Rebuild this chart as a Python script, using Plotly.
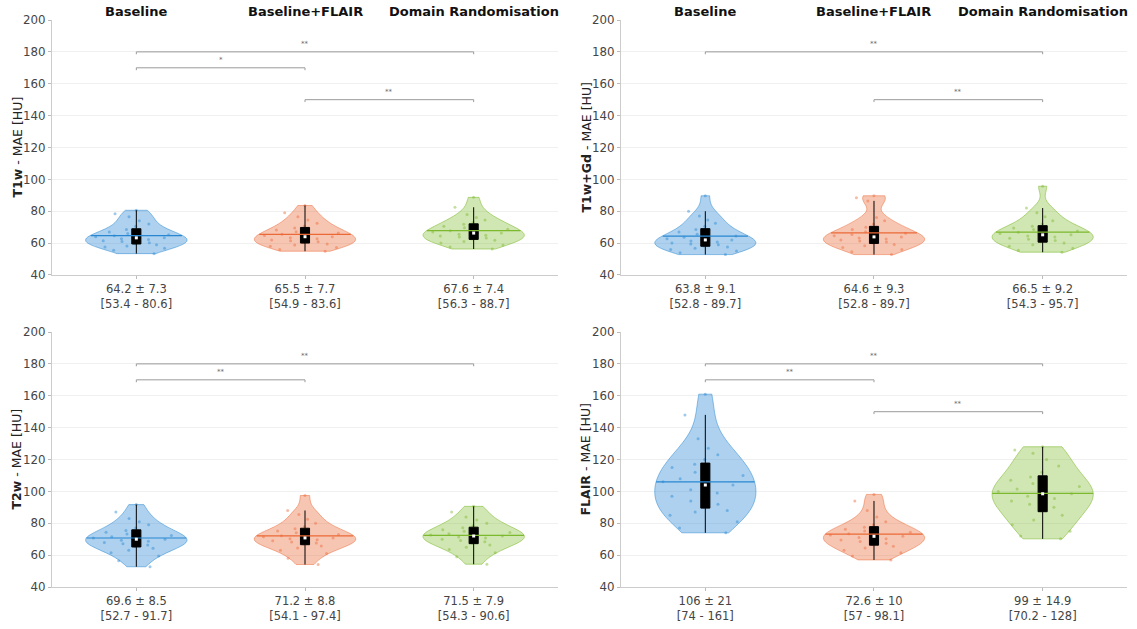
import numpy as np
import plotly.graph_objects as go

# ---------------- data ----------------
methods = ["Baseline", "Baseline+FLAIR", "Domain Randomisation"]
sequences = ["T1w", "T1w+Gd", "T2w", "FLAIR"]

t1w_baseline = [53.4, 55.5, 56.8, 57.5, 58.2, 59.0, 59.6, 60.3, 61.0, 61.5, 62.2, 62.8, 63.3,
                64.0, 64.6, 65.3, 66.0, 67.0, 68.5, 70.5, 72.0, 74.0, 76.5, 78.5, 80.6]
t1w_flair = [54.9, 56.0, 57.2, 58.0, 58.8, 59.5, 60.2, 60.8, 61.5, 62.0, 62.7, 63.4, 64.0,
             64.8, 65.5, 66.3, 67.2, 68.3, 69.5, 70.8, 72.5, 74.5, 76.5, 79.0, 83.6]
t1w_dr = [56.3, 57.5, 58.8, 60.0, 61.0, 61.8, 62.5, 63.2, 63.8, 64.4, 65.0, 65.6, 66.3,
          67.0, 67.8, 68.7, 69.6, 70.6, 71.8, 73.0, 74.5, 76.0, 78.0, 82.5, 88.7]

t1gd_baseline = [52.8, 54.0, 55.0, 56.0, 56.8, 57.5, 58.2, 58.9, 59.5, 60.1, 60.7, 61.3, 62.0,
                 62.8, 63.6, 64.5, 65.6, 67.0, 68.6, 70.5, 72.5, 74.5, 77.0, 80.0, 89.7]
t1gd_flair = [52.8, 54.5, 56.0, 57.3, 58.3, 59.2, 60.0, 60.7, 61.3, 62.0, 62.6, 63.2, 63.9,
              64.6, 65.4, 66.2, 67.2, 68.5, 70.0, 72.0, 74.0, 76.0, 86.5, 88.5, 89.7]
t1gd_dr = [54.3, 55.5, 56.8, 58.0, 59.0, 60.0, 60.8, 61.6, 62.4, 63.1, 63.8, 64.5, 65.2,
           66.0, 66.8, 67.6, 68.5, 69.5, 70.6, 72.0, 74.0, 76.5, 79.0, 82.0, 95.7]

t2w_baseline = [52.7, 56.5, 59.5, 61.5, 63.0, 64.3, 65.4, 66.4, 67.2, 68.0, 68.7, 69.3, 70.0,
                70.7, 71.5, 72.3, 73.2, 74.3, 75.5, 77.0, 79.0, 81.0, 83.0, 87.0, 91.7]
t2w_flair = [54.1, 58.0, 61.0, 63.0, 64.5, 65.8, 66.8, 67.6, 68.3, 69.0, 69.6, 70.2, 70.8,
             71.5, 72.2, 73.0, 74.0, 75.2, 76.5, 78.0, 80.0, 82.5, 85.5, 88.0, 97.4]
t2w_dr = [54.3, 59.0, 61.5, 63.5, 65.0, 66.3, 67.5, 68.4, 69.2, 70.0, 70.7, 71.3, 72.0,
          72.7, 73.4, 74.2, 75.0, 76.0, 77.2, 78.5, 80.0, 82.0, 84.0, 87.0, 90.6]

flair_baseline = [74, 77, 81, 85, 87, 88, 90, 92, 94, 97, 99, 101, 104,
                  106, 108, 110, 112, 115, 117, 120, 123, 127, 133, 148, 161]
flair_flair = [57, 59.5, 61.5, 63, 64.5, 65.5, 66.5, 67.5, 68.5, 69.5, 70.3, 71.0, 71.8,
               72.6, 73.4, 74.3, 75.2, 76.2, 77.5, 79.0, 81.0, 84.0, 88.0, 94.0, 98.1]
flair_dr = [70.2, 72, 75, 79, 82, 85, 88, 90, 92, 94, 95.5, 97, 98.5,
            100, 101.5, 103, 105, 107, 109, 112, 116, 120, 124, 126, 128]

t1w_stats = ["64.2 ± 7.3", "65.5 ± 7.7", "67.6 ± 7.4"]
t1w_ranges = ["[53.4 - 80.6]", "[54.9 - 83.6]", "[56.3 - 88.7]"]
t1gd_stats = ["63.8 ± 9.1", "64.6 ± 9.3", "66.5 ± 9.2"]
t1gd_ranges = ["[52.8 - 89.7]", "[52.8 - 89.7]", "[54.3 - 95.7]"]
t2w_stats = ["69.6 ± 8.5", "71.2 ± 8.8", "71.5 ± 7.9"]
t2w_ranges = ["[52.7 - 91.7]", "[54.1 - 97.4]", "[54.3 - 90.6]"]
flair_stats = ["106 ± 21", "72.6 ± 10", "99 ± 14.9"]
flair_ranges = ["[74 - 161]", "[57 - 98.1]", "[70.2 - 128]"]

t1w_sig = [(1, 3, "**"), (1, 2, "*"), (2, 3, "**")]
t1gd_sig = [(1, 3, "**"), (2, 3, "**")]
t2w_sig = [(1, 3, "**"), (1, 2, "**")]
flair_sig = [(1, 3, "**"), (1, 2, "**"), (2, 3, "**")]

# ---------------- style ----------------
base_colors = ["rgb(40,135,210)", "rgb(235,105,55)", "rgb(125,185,45)"]
fill_colors = ["rgba(40,135,210,0.38)", "rgba(235,105,55,0.38)", "rgba(125,185,45,0.36)"]
edge_colors = ["rgba(40,135,210,0.5)", "rgba(235,105,55,0.5)", "rgba(125,185,45,0.55)"]
bracket_height = {(1, 3): 180, (1, 2): 170, (2, 3): 150}
FONT = "DejaVu Sans"
VIOLIN_WIDTH = 0.6
FIG_W, FIG_H = 1137, 629
MARGIN = dict(l=52, r=10, t=20, b=42)


def mean_halfwidth(vals, half):
    """Half-width of the violin at the sample mean, using the same
    Silverman-bandwidth Gaussian KDE that plotly.js uses for violins."""
    v = np.asarray(vals, dtype=float)
    n = len(v)
    sd = v.std(ddof=1)
    q1, q3 = np.percentile(v, [25, 75])
    iqr = q3 - q1
    s = min(sd, iqr / 1.349) if iqr > 0 else sd
    bw = 1.059 * s * n ** (-0.2)

    def kde(t):
        t = np.atleast_1d(t)[:, None]
        return np.exp(-0.5 * ((t - v[None, :]) / bw) ** 2).sum(axis=1)

    grid = np.linspace(v.min(), v.max(), 400)
    dmax = kde(grid).max()
    return half * kde(v.mean())[0] / dmax


panels = [
    ("T1w", [t1w_baseline, t1w_flair, t1w_dr], t1w_stats, t1w_ranges, t1w_sig, "x", "y"),
    ("T1w+Gd", [t1gd_baseline, t1gd_flair, t1gd_dr], t1gd_stats, t1gd_ranges, t1gd_sig, "x2", "y2"),
    ("T2w", [t2w_baseline, t2w_flair, t2w_dr], t2w_stats, t2w_ranges, t2w_sig, "x3", "y3"),
    ("FLAIR", [flair_baseline, flair_flair, flair_dr], flair_stats, flair_ranges, flair_sig, "x4", "y4"),
]

x_domains = [[0, 0.4707], [0.5293, 1], [0, 0.4707], [0.5293, 1]]
y_domains = [[0.5503, 1], [0.5503, 1], [0, 0.4497], [0, 0.4497]]
plot_w = FIG_W - MARGIN["l"] - MARGIN["r"]
title_offset_px = 35  # y-axis title centre, left of the axis line

fig = go.Figure()
shapes = []
annotations = []
layout_axes = {}

for pi, (seq, groups, stats, ranges, sig, xa, ya) in enumerate(panels):
    for gi, vals in enumerate(groups):
        pos = gi + 1
        xs = [pos] * len(vals)
        fig.add_trace(go.Violin(
            x=xs, y=vals, xaxis=xa, yaxis=ya, width=VIOLIN_WIDTH, scalemode="width",
            spanmode="hard", fillcolor=fill_colors[gi],
            line=dict(color=edge_colors[gi], width=1),
            meanline=dict(visible=False),
            box=dict(visible=False), points="all", pointpos=0, jitter=0.9,
            marker=dict(size=3, color=base_colors[gi], opacity=0.45),
            showlegend=False, hoverinfo="y"))
        # mean line across the violin
        hw = mean_halfwidth(vals, VIOLIN_WIDTH / 2)
        m = float(np.mean(vals))
        fig.add_trace(go.Scatter(
            x=[pos - hw, pos + hw], y=[m, m], xaxis=xa, yaxis=ya, mode="lines",
            line=dict(color=base_colors[gi], width=1.2),
            showlegend=False, hoverinfo="skip"))
        fig.add_trace(go.Violin(
            x=xs, y=vals, xaxis=xa, yaxis=ya, width=VIOLIN_WIDTH, scalemode="width",
            spanmode="hard", fillcolor="rgba(0,0,0,0)", line=dict(width=0),
            meanline=dict(visible=False), points=False,
            box=dict(visible=True, width=0.09, fillcolor="black",
                     line=dict(color="black", width=1)),
            showlegend=False, hoverinfo="skip"))
        fig.add_trace(go.Scatter(
            x=[pos], y=[float(np.median(vals))], xaxis=xa, yaxis=ya, mode="markers",
            marker=dict(color="white", size=3, symbol="square"),
            showlegend=False, hoverinfo="skip"))

    for a, b, star in sig:
        h = bracket_height[(a, b)]
        shapes.append(dict(type="path", xref=xa, yref=ya,
                           path=f"M {a},{h-1.5} L {a},{h} L {b},{h} L {b},{h-1.5}",
                           line=dict(color="#9a9a9a", width=1)))
        annotations.append(dict(x=(a + b) / 2, y=h, xref=xa, yref=ya, text=star,
                                showarrow=False, yanchor="bottom", yshift=2,
                                font=dict(size=7, color="#666", family=FONT)))

    suffix = "" if pi == 0 else str(pi + 1)
    layout_axes["xaxis" + suffix] = dict(
        domain=x_domains[pi], anchor=ya, range=[0.5, 3.5], automargin=False,
        tickvals=[1, 2, 3], ticktext=[f"{s}<br>{r}" for s, r in zip(stats, ranges)],
        ticks="outside", ticklen=3, tickcolor="#bbb", showline=True, linecolor="#ccc",
        showgrid=False, zeroline=False,
        tickfont=dict(size=11.5, color="#444", family=FONT))
    layout_axes["yaxis" + suffix] = dict(
        domain=y_domains[pi], anchor=xa, range=[40, 200], dtick=20, automargin=False,
        ticks="outside", ticklen=3, tickcolor="#bbb", showline=True, linecolor="#ccc",
        showgrid=True, gridcolor="#f0f0f0", zeroline=False,
        tickfont=dict(size=11.8, color="#444", family=FONT))

    # y-axis title as a rotated annotation
    annotations.append(dict(
        x=x_domains[pi][0] - title_offset_px / plot_w, y=sum(y_domains[pi]) / 2,
        xref="paper", yref="paper", text=f"<b>{seq}</b> - MAE [HU]", textangle=-90,
        showarrow=False, xanchor="center", yanchor="middle",
        font=dict(size=12.5, color="#222", family=FONT)))

    if pi < 2:
        for gi, mth in enumerate(methods):
            annotations.append(dict(x=gi + 1, y=1.0, xref=xa, yref="paper", text=f"<b>{mth}</b>",
                                    showarrow=False, yanchor="middle", yshift=9,
                                    font=dict(size=13, color="#111", family=FONT)))

fig.update_layout(
    width=FIG_W, height=FIG_H,
    margin=dict(**MARGIN, autoexpand=False),
    paper_bgcolor="white", plot_bgcolor="white",
    violinmode="overlay", violingap=0, violingroupgap=0,
    shapes=shapes, annotations=annotations,
    font=dict(family=FONT),
    **layout_axes)

# remove the default 8 px page margin so the figure fills the window exactly
fig.write_html("out.html", config={"displayModeBar": False},
               post_script="document.body.style.margin='0px';")
